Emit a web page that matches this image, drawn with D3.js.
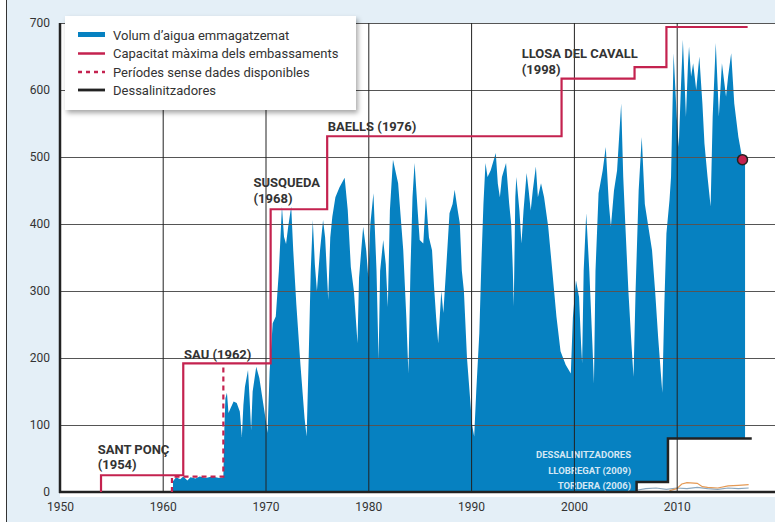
<!DOCTYPE html>
<html><head><meta charset="utf-8">
<script src="https://cdn.jsdelivr.net/npm/d3@7"></script>
<style>
html,body{margin:0;padding:0;background:#fff;}
svg{display:block;font-family:Roboto,"Noto Sans",sans-serif;}
</style></head>
<body>
<svg id="c" width="775" height="522"></svg>
<script>
// ---- data (hm3) ----
const volumAnys = [1961.0,1961.3,1961.7,1962.0,1962.4,1962.7,1963.2,1963.6,1964.2,1964.8,1965.5,1965.9,
 1966.0,1966.1,1966.25,1966.4,1966.6,1966.9,1967.2,1967.5,1967.7,1967.85,1968.0,1968.3,1968.45,1968.6,1968.75,1969.1,1969.4,1969.7,1970.0,1970.2,1970.4,1970.7,
 1971.0,1971.3,1971.6,1971.8,1972.0,1972.2,1972.5,1972.7,1973.0,1973.4,1973.8,1974.0,1974.2,1974.4,1974.6,1974.8,1975.0,1975.3,1975.6,1975.8,1976.1,1976.3,1976.5,1976.8,1977.2,1977.7,1978.0,1978.3,1978.6,1978.95,1979.1,1979.5,1979.8,
 1980.0,1980.2,1980.5,1980.8,1981.0,1981.15,1981.45,1981.7,1981.9,1982.1,1982.4,1982.9,1983.4,1983.7,1983.9,1984.1,1984.3,1984.5,1984.8,1985.0,1985.35,1985.6,1985.9,1986.2,1986.4,1986.6,1986.8,1987.1,1987.3,1987.6,1987.9,1988.2,1988.4,1988.7,1988.9,1989.1,1989.3,1989.6,1989.9,
 1990.1,1990.3,1990.5,1990.8,1991.0,1991.2,1991.4,1991.6,1991.9,1992.4,1992.6,1992.8,1993.0,1993.4,1993.7,1993.9,1994.05,1994.15,1994.3,1994.4,1994.7,1994.9,1995.1,1995.4,1995.6,1995.8,1996.0,1996.3,1996.5,1996.8,1997.1,1997.5,1997.9,1998.3,1998.7,1999.2,1999.7,1999.9,
 2000.2,2000.5,2000.7,2000.8,2000.95,2001.2,2001.5,2001.8,2001.95,2002.1,2002.4,2002.8,2003.1,2003.4,2003.6,2003.9,2004.2,2004.6,2004.8,2005.0,2005.3,2005.6,2005.8,2006.0,2006.3,2006.6,2006.9,2007.2,2007.6,2007.9,2008.2,2008.6,2008.8,2009.0,2009.3,2009.45,2009.7,
 2010.0,2010.2,2010.4,2010.6,2010.8,2010.9,2011.1,2011.2,2011.4,2011.6,2011.9,2012.2,2012.5,2012.7,2013.0,2013.3,2013.5,2013.8,2014.0,2014.1,2014.4,2014.8,2015.0,2015.3,2015.6,2015.8,2016.0,2016.4,2016.65];
const volumValors = [16,22,19,23,17,22,20,23,21,23,21,22,
 95,140,148,118,125,135,133,120,82,130,157,182,140,92,150,187,170,140,110,88,180,252,
 262,330,426,381,370,395,426,360,280,190,110,83,200,330,406,340,300,360,406,380,287,380,411,440,455,469,421,336,300,222,320,396,360,
 320,400,446,330,197,330,376,340,276,420,496,461,361,260,177,330,440,491,420,376,371,441,380,361,306,260,222,300,267,340,416,430,451,420,401,330,300,200,140,
 100,83,150,237,342,430,491,470,480,506,460,440,470,491,431,400,336,277,440,470,420,371,420,476,450,420,450,486,440,461,440,396,330,262,210,190,177,260,
 316,291,220,192,330,416,330,220,162,330,446,480,515,430,396,450,480,580,470,400,300,220,172,300,450,530,430,400,361,300,230,148,280,386,436,470,655,
 560,515,600,675,600,560,640,665,620,640,600,650,580,520,470,426,560,670,600,560,640,590,620,655,580,555,530,496,488];

const capacitatAnys   = [1954, 1954, 1962, 1970.5, 1976, 1998.8, 2005.9, 2009.0, 2016.9];
const capacitatValors = [0, 25, 192, 422, 531, 617, 634, 694, 694];

const senseDadesAnys   = [1960.9, 1960.9, 1965.9, 1965.9];
const senseDadesValors = [0, 23, 23, 186];

const dessalAnys   = [2006.1, 2006.1, 2009.15, 2009.15, 2017.3];
const dessalValors = [0, 15, 15, 80, 80];

const torderaAnys   = [2006.2,2007,2008,2009,2010,2011,2012,2013,2014,2015,2016,2017];
const torderaValors = [3,5,6,4,6,5,7,5,4,6,5,6];
const llobregatAnys   = [2009.3,2010,2010.5,2011,2012,2012.5,2013,2014,2015,2016,2017];
const llobregatValors = [2,5,12,14,13,8,7,6,9,10,11];

const puntActual = [2016.4, 496];

const yTicks = [0,100,200,300,400,500,600,700];
const xTicks = [1950,1960,1970,1980,1990,2000,2010];

const llegenda = ["Volum d\u2019aigua emmagatzemat","Capacitat m\u00e0xima dels embassaments","Per\u00edodes sense dades disponibles","Dessalinitzadores"];

const anotacions = [
  {lines:["SANT PON\u00c7","(1954)"]},
  {lines:["SAU (1962)"]},
  {lines:["SUSQUEDA","(1968)"]},
  {lines:["BAELLS (1976)"]},
  {lines:["LLOSA DEL CAVALL","(1998)"]}
];
const anotX = [97.7, 184, 253.5, 327.7, 521.7];
const anotY = [[454,469],[359],[187,203],[131],[58,74]];

const dessalEtiquetes = ["DESSALINITZADORES","LLOBREGAT (2009)","TORDERA (2006)"];

// ---- drawing ----
const svg = d3.select("#c");
const W = 775, H = 522;
const x = d3.scaleLinear().domain([1950, 2020]).range([59.9, 59.9 + 70*10.28]);
const y = d3.scaleLinear().domain([0, 700]).range([492, 23]);
const BLUE = "#0681c1", RED = "#c4224f", BG = "#e4eff7";

// background
svg.append("rect").attr("x",0).attr("y",0).attr("width",W).attr("height",H).attr("fill",BG);
svg.append("rect").attr("x",0).attr("y",0).attr("width",6).attr("height",H).attr("fill","#fff");
svg.append("line").attr("x1",6.5).attr("x2",6.5).attr("y1",0).attr("y2",H).attr("stroke","#333").attr("stroke-width",1);
svg.append("rect").attr("x",60).attr("y",y(700)).attr("width",W-60).attr("height",497-y(700)).attr("fill","#fff");

// volume area
const volum = volumAnys.map((a,i)=>[a, volumValors[i]]);
svg.append("path").datum(volum)
  .attr("d", d3.area().x(d=>x(d[0])).y0(y(0)).y1(d=>y(d[1])))
  .attr("fill", BLUE);

// desalination white area
const dessal = dessalAnys.map((a,i)=>[a, dessalValors[i]]);
svg.append("path").datum(dessal)
  .attr("d", d3.area().x(d=>x(d[0])).y0(y(0)).y1(d=>y(d[1])))
  .attr("fill", "#fff");
const lineGen = d3.line().x(d=>x(d[0])).y(d=>y(d[1]));
svg.append("path").datum(torderaAnys.map((a,i)=>[a,torderaValors[i]]))
  .attr("d", lineGen).attr("fill","none").attr("stroke","#8aa6bd").attr("stroke-width",1.2);
svg.append("path").datum(llobregatAnys.map((a,i)=>[a,llobregatValors[i]]))
  .attr("d", lineGen).attr("fill","none").attr("stroke","#e59a55").attr("stroke-width",1.2);

// desal labels
const dl = svg.append("g").attr("font-size","9.5px").attr("font-weight","bold").attr("fill","#d4e7f4").attr("text-anchor","end");
dessalEtiquetes.forEach((t,i)=>{
  dl.append("text").attr("x",631).attr("y",[458,474,489][i]).text(t);
});

// gridlines + axis labels
const gy = svg.append("g").attr("transform","translate(60,0)")
  .call(d3.axisLeft(y).tickValues(yTicks).tickSizeInner(-(W-60)).tickSizeOuter(0).tickPadding(10));
gy.select(".domain").remove();
gy.selectAll("line").attr("stroke","#555").attr("stroke-width",1);
gy.selectAll("text").attr("font-size","12px").attr("fill","#333").attr("font-family","Roboto,sans-serif");

const gx = svg.append("g").attr("transform",`translate(0,${y(0)})`)
  .call(d3.axisBottom(x).tickValues(xTicks).tickFormat(d3.format("d")).tickSizeInner(-(y(0)-y(700))).tickSizeOuter(0).tickPadding(10));
gx.select(".domain").remove();
gx.selectAll("line").attr("stroke","#222").attr("stroke-width",1);
gx.selectAll(".tick").filter(d=>d===1950).select("line").remove();
gx.selectAll("text").attr("font-size","12px").attr("fill","#333").attr("font-family","Roboto,sans-serif");

// axis lines
svg.append("line").attr("x1",60).attr("x2",60).attr("y1",y(700)).attr("y2",y(0)+1).attr("stroke","#222").attr("stroke-width",2.5);
svg.append("line").attr("x1",59).attr("x2",W).attr("y1",y(0)).attr("y2",y(0)).attr("stroke","#222").attr("stroke-width",2.5);

// capacity step line
const stepLine = d3.line().x(d=>x(d[0])).y(d=>y(d[1])).curve(d3.curveStepAfter);
svg.append("path").datum(capacitatAnys.map((a,i)=>[a,capacitatValors[i]]))
  .attr("d", stepLine).attr("fill","none").attr("stroke",RED).attr("stroke-width",2.2);
svg.append("path").datum(senseDadesAnys.map((a,i)=>[a,senseDadesValors[i]]))
  .attr("d", lineGen).attr("fill","none").attr("stroke",RED)
  .attr("stroke-width",2.2).attr("stroke-dasharray","5,4");

// desal black line
svg.append("path").datum(dessal)
  .attr("d", lineGen).attr("fill","none").attr("stroke","#222").attr("stroke-width",2.5);

// current point
svg.append("circle").attr("cx",x(puntActual[0])).attr("cy",y(puntActual[1])).attr("r",5)
  .attr("fill",RED).attr("stroke","#222").attr("stroke-width",1.5);

// annotations
const ag = svg.append("g").attr("font-size","13px").attr("font-weight","bold").attr("fill","#333");
anotacions.forEach((a,i)=>{
  a.lines.forEach((l,j)=>{
    ag.append("text").attr("x", anotX[i]).attr("y", anotY[i][j]).text(l);
  });
});

// legend
const defs = svg.append("defs");
const f = defs.append("filter").attr("id","sh").attr("x","-10%").attr("y","-10%").attr("width","130%").attr("height","140%");
f.append("feDropShadow").attr("dx",2).attr("dy",3).attr("stdDeviation",2.5).attr("flood-color","#000").attr("flood-opacity",0.35);
const lg = svg.append("g");
lg.append("rect").attr("x",65).attr("y",16).attr("width",291).attr("height",94).attr("fill","#fff").attr("filter","url(#sh)");
const rows = [35, 53.5, 72, 90];
lg.append("rect").attr("x",78).attr("y",rows[0]-3).attr("width",27).attr("height",5).attr("fill",BLUE);
lg.append("line").attr("x1",78).attr("x2",105).attr("y1",rows[1]).attr("y2",rows[1]).attr("stroke",RED).attr("stroke-width",2.5);
lg.append("line").attr("x1",78).attr("x2",105).attr("y1",rows[2]).attr("y2",rows[2]).attr("stroke",RED).attr("stroke-width",2.5).attr("stroke-dasharray","4,4");
lg.append("line").attr("x1",78).attr("x2",105).attr("y1",rows[3]).attr("y2",rows[3]).attr("stroke","#222").attr("stroke-width",2.8);
llegenda.forEach((t,i)=>{
  lg.append("text").attr("x",113).attr("y",rows[i]+4.5).attr("font-size","13px").attr("fill","#333").text(t);
});
</script>
</body></html>
